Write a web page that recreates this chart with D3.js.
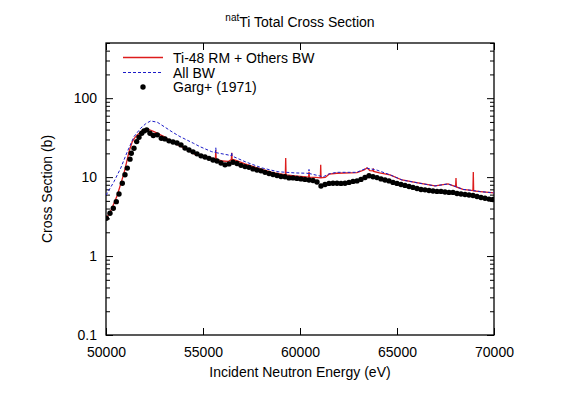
<!DOCTYPE html>
<html>
<head>
<meta charset="utf-8">
<script src="https://cdn.jsdelivr.net/npm/d3@7"></script>
<style>
body { margin: 0; background: #fff; }
svg text { font-family: "Liberation Sans", Arial, Helvetica, sans-serif; fill: #000; }
</style>
</head>
<body>
<div id="chart"></div>
<script>
// axis ticks and legend
var xTicks = [50000, 55000, 60000, 65000, 70000];
var yTicks = [0.1, 1, 10, 100];
var legendLabels = ["Ti-48 RM + Others BW", "All BW", "Garg+ (1971)"];

// Garg+ (1971) measurement: [energy eV, cross section b]
var garg = [
	[50020, 3.01], [50206, 3.49], [50376, 4.04], [50531, 4.89], [50670, 6.12], [50840, 8.37],
	[50979, 10.7], [51098, 13.0], [51237, 16.9], [51304, 20.1], [51443, 23.2], [51582, 28.2],
	[51701, 32.0], [51840, 36.0], [51959, 38.5], [52098, 39.7], [52268, 36.0], [52438, 33.6],
	[52644, 34.3], [52851, 31.1], [53041, 30.5], [53247, 28.8], [53454, 27.9], [53660, 27.1],
	[53866, 25.6], [54072, 23.4], [54278, 22.1], [54485, 20.9], [54691, 19.7], [54897, 18.6],
	[55103, 18.0], [55309, 17.3], [55515, 16.5], [55722, 16.0], [55928, 15.1], [56134, 14.3],
	[56340, 14.7], [56546, 15.4], [56753, 14.9], [56959, 14.1], [57165, 13.6], [57371, 13.3],
	[57577, 12.7], [57784, 12.3], [57990, 12.0], [58196, 11.5], [58402, 11.1], [58608, 10.8],
	[58815, 10.5], [59021, 10.2], [59227, 10.1], [59433, 9.77], [59639, 9.77], [59845, 9.63],
	[60052, 9.49], [60258, 9.35], [60464, 9.2], [60670, 9.08], [60876, 8.69], [61082, 7.73],
	[61289, 8.08], [61495, 8.32], [61701, 8.37], [61907, 8.37], [62113, 8.32], [62320, 8.37],
	[62526, 8.57], [62732, 8.82], [62938, 8.95], [63144, 9.35], [63351, 9.91], [63557, 10.4],
	[63763, 10.1], [63969, 9.86], [64175, 9.49], [64381, 9.2], [64588, 8.95], [64794, 8.57],
	[65000, 8.32], [65206, 8.08], [65412, 7.85], [65619, 7.62], [65825, 7.41], [66031, 7.19],
	[66237, 6.98], [66443, 6.9], [66649, 6.78], [66856, 6.68], [67062, 6.59], [67268, 6.59],
	[67474, 6.49], [67680, 6.4], [67887, 6.4], [68093, 6.21], [68299, 6.12], [68505, 6.03],
	[68711, 5.94], [68918, 5.85], [69124, 5.68], [69330, 5.51], [69536, 5.39], [69742, 5.27],
	[69948, 5.2]
];

// Ti-48 RM + Others BW
var rmCurve = [
	[50000, 2.95], [50300, 4.0], [50582, 5.9], [50750, 8.1], [50928, 11.2], [51060, 15.4],
	[51186, 21.0], [51356, 28.2], [51480, 31.5], [51613, 34.3], [51830, 38.0], [52046, 40.8],
	[52250, 39.8], [52474, 37.7], [52990, 32.6], [53300, 28.8], [53814, 24.9], [54300, 21.4],
	[54588, 19.4], [55103, 18.0], [55580, 17.0], [55640, 16.9], [55660, 22.1], [55680, 16.9],
	[56000, 16.0], [56300, 15.8], [56460, 16.7], [56480, 20.3], [56500, 16.8], [56700, 16.3],
	[57165, 14.7], [58041, 12.5], [58600, 11.4], [59150, 10.8], [59245, 10.7], [59263, 17.5],
	[59281, 10.7], [59742, 10.4], [60300, 10.1], [60445, 10.0], [60464, 11.7], [60483, 10.0],
	[60800, 9.9], [61050, 9.8], [61067, 14.3], [61085, 9.8], [61300, 9.9], [61500, 10.9],
	[61900, 11.2], [62938, 11.4], [63300, 12.3], [63454, 13.1], [63600, 12.1], [63760, 12.0],
	[63778, 12.9], [63796, 11.8], [64100, 11.3], [64639, 10.7], [65258, 9.2], [66082, 8.44],
	[66959, 7.73], [67629, 8.2], [67950, 7.7], [68020, 7.6], [68041, 9.77], [68062, 7.5],
	[68400, 7.0], [68915, 6.75], [68933, 11.6], [68951, 6.7], [69300, 6.55], [70000, 6.31]
];

// All BW
var bwCurve = [
	[50000, 5.9], [50412, 8.77], [50758, 13.0], [51098, 21.0], [51443, 32.6], [51789, 41.7],
	[52050, 47.5], [52304, 51.5], [52644, 49.6], [52990, 43.7], [53400, 37.5], [53814, 32.6],
	[54500, 26.9], [54845, 24.3], [55449, 21.0], [55640, 20.5], [55660, 23.5], [55680, 20.4],
	[56289, 19.1], [56460, 18.6], [56480, 20.6], [56500, 18.5], [57165, 15.7], [58026, 13.1],
	[58866, 11.7], [59742, 11.3], [60345, 11.2], [60445, 11.1], [60464, 12.5], [60483, 11.1],
	[60900, 10.5], [61201, 10.1], [61500, 11.0], [61892, 11.5], [62923, 11.5], [63438, 13.0],
	[63954, 12.3], [64639, 10.7], [65258, 9.2], [66082, 8.44], [66959, 7.73], [67629, 8.2],
	[67950, 7.7], [68400, 7.0], [68933, 6.75], [69300, 6.55], [70000, 6.31]
];

var width = 563, height = 394,
	plotLeft = 106, plotRight = 494, plotTop = 43, plotBottom = 335,
	majorTick = 7, minorTick = 4,
	redColor = "#dd1c1c", blueColor = "#1c1cc8";

var svg = d3.select("#chart").append("svg")
	.attr("width", width)
	.attr("height", height);

var x = d3.scaleLinear().domain([50000, 70000]).range([plotLeft, plotRight]);
var y = d3.scaleLog().domain([0.1, 500]).range([plotBottom, plotTop]);

// minor log ticks 2..9 per decade
var minorTicks = y.ticks().filter(function(v) {
	return yTicks.indexOf(v) < 0;
});

svg.append("defs").append("clipPath")
	.attr("id", "plotArea")
	.append("rect")
	.attr("x", plotLeft).attr("y", plotTop)
	.attr("width", plotRight - plotLeft).attr("height", plotBottom - plotTop);

// axes, ticks pointing inward
svg.append("g")
	.attr("transform", "translate(0," + plotBottom + ")")
	.call(d3.axisBottom(x).tickValues(xTicks).tickSize(-majorTick).tickPadding(12)
		.tickFormat(d3.format("d")));
svg.append("g")
	.attr("transform", "translate(0," + plotTop + ")")
	.call(d3.axisTop(x).tickValues(xTicks).tickSize(-majorTick).tickFormat(""));
svg.append("g")
	.attr("transform", "translate(" + plotLeft + ",0)")
	.call(d3.axisLeft(y).tickValues(yTicks).tickSize(-majorTick).tickPadding(9)
		.tickFormat(function(d) { return d < 1 ? "0.1" : d3.format("d")(d); }));
svg.append("g")
	.attr("transform", "translate(" + plotRight + ",0)")
	.call(d3.axisRight(y).tickValues(yTicks).tickSize(-majorTick).tickFormat(""));
svg.append("g")
	.attr("transform", "translate(" + plotLeft + ",0)")
	.call(d3.axisLeft(y).tickValues(minorTicks).tickSize(-minorTick).tickFormat(""));
svg.append("g")
	.attr("transform", "translate(" + plotRight + ",0)")
	.call(d3.axisRight(y).tickValues(minorTicks).tickSize(-minorTick).tickFormat(""));

svg.selectAll(".domain").remove();
svg.selectAll(".tick line").attr("stroke", "#000").attr("stroke-width", 1);
svg.selectAll(".tick text").attr("font-size", "14px").attr("fill", "#000")
	.attr("font-family", "Liberation Sans, Arial, sans-serif");

// frame
svg.append("rect")
	.attr("x", plotLeft).attr("y", plotTop)
	.attr("width", plotRight - plotLeft).attr("height", plotBottom - plotTop)
	.attr("fill", "none")
	.attr("stroke", "#000")
	.attr("stroke-width", 1.3);

var line = d3.line()
	.x(function(d) { return x(d[0]); })
	.y(function(d) { return y(d[1]); });

var plot = svg.append("g").attr("clip-path", "url(#plotArea)");

plot.append("path")
	.datum(rmCurve)
	.attr("d", line)
	.attr("fill", "none")
	.attr("stroke", redColor)
	.attr("stroke-width", 1.3);

plot.append("path")
	.datum(bwCurve)
	.attr("d", line)
	.attr("fill", "none")
	.attr("stroke", blueColor)
	.attr("stroke-width", 1)
	.attr("stroke-dasharray", "3,2");

plot.selectAll("circle.garg")
	.data(garg)
	.enter().append("circle")
	.attr("class", "garg")
	.attr("cx", function(d) { return x(d[0]); })
	.attr("cy", function(d) { return y(d[1]); })
	.attr("r", 2.7)
	.attr("fill", "#000");

// title with superscript
var title = svg.append("text")
	.attr("x", (plotLeft + plotRight) / 2)
	.attr("y", 27)
	.attr("text-anchor", "middle");
title.append("tspan").attr("font-size", "10px").attr("dy", -6).text("nat");
title.append("tspan").attr("font-size", "14px").attr("dy", 6).text("Ti Total Cross Section");

svg.append("text")
	.attr("x", (plotLeft + plotRight) / 2)
	.attr("y", 377)
	.attr("text-anchor", "middle")
	.attr("font-size", "14px")
	.text("Incident Neutron Energy (eV)");

svg.append("text")
	.attr("transform", "translate(52," + ((plotTop + plotBottom) / 2) + ") rotate(-90)")
	.attr("text-anchor", "middle")
	.attr("font-size", "14px")
	.text("Cross Section (b)");

// legend
var legend = svg.append("g").attr("class", "legend");
var legendY = [57.5, 72.5, 87];

legend.append("line")
	.attr("x1", 123).attr("x2", 163)
	.attr("y1", legendY[0]).attr("y2", legendY[0])
	.attr("stroke", redColor).attr("stroke-width", 1.3);
legend.append("line")
	.attr("x1", 123).attr("x2", 163)
	.attr("y1", legendY[1]).attr("y2", legendY[1])
	.attr("stroke", blueColor).attr("stroke-width", 1)
	.attr("stroke-dasharray", "3,2");
legend.append("circle")
	.attr("cx", 143).attr("cy", legendY[2])
	.attr("r", 2.7).attr("fill", "#000");

legend.selectAll("text")
	.data(legendLabels)
	.enter().append("text")
	.attr("x", 173)
	.attr("y", function(d, i) { return legendY[i] + 5; })
	.attr("font-size", "14px")
	.text(function(d) { return d; });
</script>
</body>
</html>
